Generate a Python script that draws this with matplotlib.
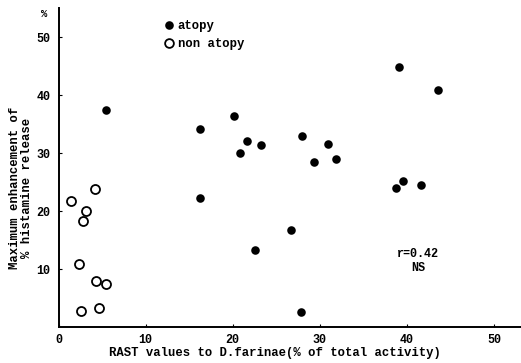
import matplotlib
matplotlib.use("Agg")
import matplotlib.pyplot as plt
from matplotlib.lines import Line2D

# Data
atopy_x = [5.5, 16.2, 20.2, 20.8, 21.6, 23.3, 28.0, 30.9, 29.3, 31.9, 39.1, 43.6,
           16.2, 22.6, 26.7, 27.8, 38.7, 39.6, 41.6]
atopy_y = [37.4, 34.1, 36.3, 30.0, 32.1, 31.4, 32.9, 31.6, 28.4, 29.0, 44.9, 40.9,
           22.2, 13.2, 16.8, 2.6, 23.9, 25.1, 24.5]
non_x = [1.4, 4.2, 3.2, 2.8, 2.4, 4.35, 5.5, 2.6, 4.7]
non_y = [21.8, 23.8, 20.0, 18.2, 10.8, 7.9, 7.4, 2.7, 3.3]

xticks = [0, 10, 20, 30, 40, 50]
yticks = [10, 20, 30, 40, 50]

FONT = "Liberation Mono"
plt.rcParams['font.family'] = [FONT, 'DejaVu Sans Mono']
plt.rcParams['font.weight'] = 'bold'

W, H = 521, 363
fig = plt.figure(figsize=(W / 100, H / 100), dpi=100)
left, right, bottom, top = 58.5, 521, 327, 8
ax = fig.add_axes([left / W, 1 - bottom / H, (right - left) / W, (bottom - top) / H])

ax.scatter(atopy_x, atopy_y, s=38, c='black', marker='o', linewidths=0, zorder=3)
ax.scatter(non_x, non_y, s=42, facecolors='white', edgecolors='black',
           marker='o', linewidths=1.3, zorder=3)

ax.set_xlim(0, (right - left) / 8.71)
ax.set_ylim(0, (bottom - top) / 5.8)
ax.set_xticks(xticks)
ax.set_yticks(yticks)
ax.set_xticklabels([str(v) for v in xticks])
ax.set_yticklabels([str(v) for v in yticks])
ax.tick_params(direction='in', length=2.5, width=0.8, labelsize=8.5)
ax.tick_params(axis='x', pad=5)
ax.tick_params(axis='y', pad=6)
for s in ['top', 'right']:
    ax.spines[s].set_visible(False)
for s in ['left', 'bottom']:
    ax.spines[s].set_linewidth(1.4)

fig.text(275 / W, 1 - 353 / H, "RAST values to D.farinae(% of total activity)",
         ha='center', va='center', fontsize=8.8)
fig.text(21 / W, 1 - 188 / H, "Maximum enhancement of\n% histamine release",
         rotation=90, ha='center', va='center', fontsize=8.8, multialignment='center',
         linespacing=1.05)
fig.text(44 / W, 1 - 14 / H, "%", ha='center', va='center', fontsize=7.5)

ax.text((418 - left) / 8.71, (328 - 262) / 5.8, "r=0.42\nNS", ha='center', va='center',
        fontsize=8.5, linespacing=1.3)

handles = [Line2D([], [], marker='o', ls='none', color='black', markersize=6.2,
                  markeredgewidth=0),
           Line2D([], [], marker='o', ls='none', markerfacecolor='white',
                  markeredgecolor='black', markersize=6.3, markeredgewidth=1.3)]
ax.legend(handles, ["atopy", "non atopy"], loc='upper left',
          bbox_to_anchor=(165 / W, 1 - 20 / H), bbox_transform=fig.transFigure,
          frameon=False, handlelength=0.6, handletextpad=0.45, labelspacing=0.5,
          borderpad=0, borderaxespad=0, fontsize=8.8)

fig.savefig("out.png", dpi=100)
